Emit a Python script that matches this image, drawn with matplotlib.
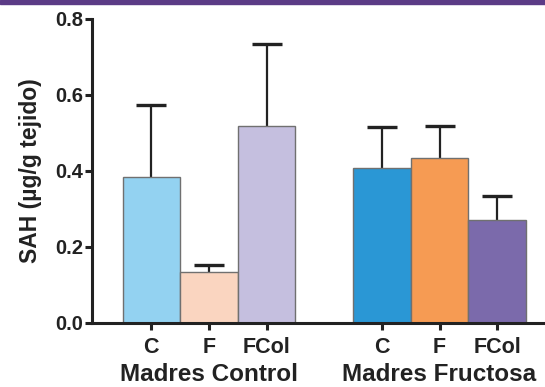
import numpy as np
import matplotlib
matplotlib.use("Agg")
import matplotlib.pyplot as plt
from matplotlib.patches import Rectangle
from matplotlib.transforms import blended_transform_factory

# SAH per tissue, offspring groups within each mother group
groups = ["Madres Control", "Madres Fructosa"]
categories = ["C", "F", "FCol"]
sah_control = [0.385, 0.133, 0.519]
sah_fructose = [0.407, 0.434, 0.270]
err_control = [0.189, 0.020, 0.215]
err_fructose = [0.110, 0.085, 0.063]

colors_control = ["#93d2f1", "#fad5c0", "#c5bfdf"]
colors_fructose = ["#2a97d5", "#f69b53", "#7b6aab"]

plt.rcParams["font.family"] = ["Liberation Sans", "DejaVu Sans"]
plt.rcParams["font.weight"] = "bold"

fig = plt.figure(figsize=(5.45, 3.87), dpi=100)
ax = fig.add_axes([92 / 545, 64 / 387, 453 / 545, 304 / 387])

# thin purple band along the top edge
fig.patches.append(Rectangle((0, 1 - 4 / 387), 1, 4 / 387, transform=fig.transFigure,
                             color="#5b3b86", zorder=0))

x_control = np.arange(3)
x_fructose = np.arange(3) + 4
values = sah_control + sah_fructose
errors = err_control + err_fructose
xs = np.concatenate([x_control, x_fructose])
cols = colors_control + colors_fructose

ax.bar(xs, values, width=1.0, color=cols, edgecolor="#707070", linewidth=1.0, zorder=2)
# only the upper half of each error bar is shown
eb = ax.errorbar(xs, values, yerr=[np.zeros(len(errors)), errors], fmt="none",
                 ecolor="#222222", elinewidth=1.6, capsize=10.5, capthick=2.4, zorder=1)
eb[1][0].set_visible(False)

ax.set_ylim(0, 0.8)
ax.set_xlim(-1.03, 6.83)
ax.set_yticks([0.0, 0.2, 0.4, 0.6, 0.8])
ax.set_yticklabels(["0.0", "0.2", "0.4", "0.6", "0.8"])
ax.set_xticks(xs)
ax.set_xticklabels(categories * 2)

for side in ["top", "right"]:
    ax.spines[side].set_visible(False)
for side in ["left", "bottom"]:
    ax.spines[side].set_linewidth(2.2)
    ax.spines[side].set_color("#222222")
ax.tick_params(axis="both", width=2.2, length=5, color="#222222", labelcolor="#222222")
ax.tick_params(axis="x", pad=5, labelsize=15.5)
ax.tick_params(axis="y", pad=1.5, labelsize=14.5)

ax.set_ylabel("SAH (µg/g tejido)", fontsize=16.5, fontweight="bold", color="#222222",
              labelpad=9)

trans = blended_transform_factory(ax.transData, fig.transFigure)
for gx, name in zip([1, 5], groups):
    ax.text(gx, 6 / 387, name, transform=trans, ha="center", va="baseline",
            fontsize=17.5, fontweight="bold", color="#222222", clip_on=False)

fig.savefig("out.png", dpi=100)
